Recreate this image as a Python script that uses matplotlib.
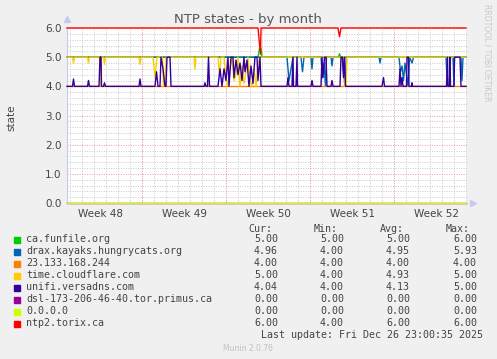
import matplotlib
matplotlib.use("Agg")
import matplotlib.pyplot as plt

# time axis in hours from the left edge of the graph (2 h per munin sample)
week_names = ['Week 48', 'Week 49', 'Week 50', 'Week 51', 'Week 52']
week_centres = [66, 234, 402, 570, 738]
mondays = [150, 318, 486, 654]
days = list(range(6, 800, 24))

names = ['ca.funfile.org', 'drax.kayaks.hungrycats.org', '23.133.168.244',
         'time.cloudflare.com', 'unifi.versadns.com',
         'dsl-173-206-46-40.tor.primus.ca', '0.0.0.0', 'ntp2.torix.ca']
colours = ['#00CC00', '#0066B3', '#FF8000', '#FFCC00', '#330099',
           '#990099', '#CCFF00', '#FF0000']
cur = [5.00, 4.96, 4.00, 5.00, 4.04, 0.00, 0.00, 6.00]
mins = [5.00, 4.00, 4.00, 4.00, 4.00, 0.00, 0.00, 4.00]
avg = [5.00, 4.95, 4.00, 4.93, 4.13, 0.00, 0.00, 6.00]
maxs = [6.00, 5.93, 4.00, 5.00, 5.00, 0.00, 0.00, 6.00]

funfile = [(0, 5), (382, 5), (385, 5.3), (388, 5.3), (390, 5), (543, 5), (545, 5.12),
           (547, 5), (798, 5)]
drax = [(0, 5), (440, 5), (444, 4.2), (448, 4.6), (452, 5), (468, 5), (471, 4.5), (474, 5),
        (488, 5), (490, 4.6), (492, 5), (508, 5), (511, 4.3), (514, 4.8), (517, 4.0),
        (519, 5), (528, 5), (530, 4.7), (532, 5), (550, 5), (553, 4.5), (556, 4.0), (559, 5),
        (624, 5), (626, 4.8), (628, 5), (664, 5), (667, 4.5), (670, 4.7), (673, 4.2),
        (676, 4.8), (679, 4.4), (682, 4.0), (685, 5), (690, 4.8), (693, 5), (758, 5),
        (761, 4.0), (765, 4.0), (767, 5), (772, 5), (774, 4.0), (775, 5), (788, 5),
        (790, 4.2), (792, 5), (798, 5)]
ip23 = [(0, 4), (798, 4)]
cloudflare = [(0, 5), (11, 5), (13, 4.8), (15, 5), (41, 5), (43, 4.8), (45, 5), (65, 5),
              (67, 4.0), (69, 5), (73, 5), (75, 4.75), (77, 5), (144, 5), (146, 4.75),
              (148, 5), (172, 5), (176, 4.3), (180, 5), (191, 5), (193, 4.0), (196, 4.0),
              (198, 5), (254, 5), (256, 4.6), (258, 5), (302, 5), (305, 4.4), (308, 5),
              (314, 5), (318, 4.3), (322, 4.0), (326, 4.6), (330, 5), (334, 4.2), (338, 4.4),
              (342, 5), (346, 4.0), (350, 4.7), (354, 4.1), (358, 4.5), (362, 5), (366, 4.2),
              (370, 4.0), (374, 4.6), (378, 4.0), (382, 4.8), (386, 5), (553, 5), (555, 4.0),
              (558, 4.0), (560, 5), (798, 5)]
unifi = [(0, 4), (11, 4), (13, 4.25), (15, 4), (41, 4), (43, 4.2), (45, 4), (64, 4), (66, 5),
         (68, 5), (69, 4), (73, 4), (75, 4.12), (77, 4), (144, 4), (146, 4.25), (148, 4),
         (176, 4), (179, 4.5), (182, 4), (186, 4), (188, 5), (192, 4.6), (196, 4), (198, 4),
         (200, 5), (206, 5), (208, 4), (274, 4), (276, 4.12), (278, 4), (281, 4), (283, 5),
         (285, 4), (302, 4), (306, 4.6), (310, 4), (314, 4.6), (318, 4.2), (322, 5),
         (324, 4), (328, 5), (332, 5), (334, 4.3), (338, 4.9), (342, 4.4), (346, 4.8),
         (350, 4.2), (354, 5), (356, 4.5), (360, 4.9), (364, 4), (368, 4.7), (372, 4.1),
         (376, 5), (380, 5), (382, 4.2), (386, 5), (388, 4), (440, 4), (442, 4.3), (444, 4),
         (450, 4), (452, 5), (453, 4), (458, 4), (460, 5), (461, 4), (488, 4), (490, 4.2),
         (492, 4), (508, 4), (510, 5), (512, 4.3), (515, 5), (518, 5), (520, 4), (528, 4),
         (530, 4.2), (532, 4), (546, 4), (548, 5), (551, 5), (553, 4.3), (555, 5), (557, 4),
         (630, 4), (633, 4.3), (635, 4), (664, 4), (666, 4.6), (668, 4), (670, 4.3), (672, 4),
         (679, 4), (680, 5), (683, 5), (684, 4), (689, 4), (690, 4.12), (691, 4), (759, 4),
         (761, 5), (762, 4), (765, 4), (766, 5), (767, 4), (774, 4), (775, 5), (786, 5),
         (788, 4), (798, 4)]
primus = [(0, 0), (798, 0)]
zeros = [(0, 0), (798, 0)]
torix = [(0, 6), (382, 6), (387, 5.1), (388, 6), (542, 6), (545, 5.7), (548, 6), (798, 6)]

series = [funfile, drax, ip23, cloudflare, unifi, primus, zeros, torix]

W, H = 497, 359
BG = '#F0F0F0'
TXT = '#444444'


def fx(x):
    return x / W


def fy(y):
    return 1 - y / H


fig = plt.figure(figsize=(W / 100, H / 100), dpi=100, facecolor=BG)
ax = fig.add_axes([fx(67), fy(203), 400 / W, 175 / H])
ax.set_facecolor('white')
ax.set_xlim(0, 800)
ax.set_ylim(0, 6)

# grid
dots = (0, (1, 1.5))
for y in [i * 0.2 for i in range(31)]:
    if abs(y - round(y)) < 1e-6:
        continue
    ax.axhline(y, color='#C8C8C8', lw=0.7, ls=dots, zorder=1)
for d in days:
    ax.axvline(d, color='#C8C8C8', lw=0.7, ls=dots, zorder=1)
for y in range(1, 7):
    ax.axhline(y, color='#E8A0A0', lw=0.7, ls=dots, zorder=1.5)
for m in mondays:
    ax.axvline(m, color='#E8A0A0', lw=0.7, ls=dots, zorder=1.5)

for pts, c in zip(series, colours):
    xs = [p[0] for p in pts]
    ys = [p[1] for p in pts]
    ax.plot(xs, ys, color=c, lw=1.0, clip_on=False, zorder=3)

for s in ['top', 'right']:
    ax.spines[s].set_visible(False)
for s in ['left', 'bottom']:
    ax.spines[s].set_color('#C8C8F0')
    ax.spines[s].set_linewidth(0.8)
ax.plot([0], [6.3], marker='^', color='#C8C8F0', ms=4, clip_on=False, zorder=4)
ax.plot([812], [0], marker='>', color='#C8C8F0', ms=4, clip_on=False, zorder=4)

ax.set_yticks(range(7))
ax.set_yticklabels(['%.1f' % v for v in range(7)], fontsize=7.5, color=TXT)
ax.set_xticks(week_centres)
ax.set_xticklabels(week_names, fontsize=7.5, color=TXT)
ax.tick_params(length=0, pad=4)

fig.text(fx(248), fy(19), 'NTP states - by month', ha='center', va='center',
         fontsize=9.5, color='#555555')
fig.text(fx(11), fy(118), 'state', ha='center', va='center', rotation=90,
         fontsize=7.5, color=TXT)
fig.text(fx(487), fy(53), 'RRDTOOL / TOBI OETIKER', ha='center', va='center',
         rotation=270, fontsize=5.5, color='#C8C8C8')

# legend
mono = 'DejaVu Sans Mono'
fs = 7.2
for label, xr in zip(['Cur:', 'Min:', 'Avg:', 'Max:'], [272, 338, 404, 470]):
    fig.text(fx(xr), fy(228.5), label, ha='right', va='center', family=mono,
             fontsize=fs, color=TXT)
for i in range(len(names)):
    yc = 239.5 + 12 * i
    fig.patches.append(plt.Rectangle((fx(14), fy(yc + 3)), 6 / W, 6 / H,
                                     transform=fig.transFigure, color=colours[i]))
    fig.text(fx(26), fy(yc), names[i], ha='left', va='center', family=mono,
             fontsize=fs, color=TXT)
    for v, xr in zip([cur[i], mins[i], avg[i], maxs[i]], [278, 344, 410, 477]):
        fig.text(fx(xr), fy(yc), '%.2f' % v, ha='right', va='center', family=mono,
                 fontsize=fs, color=TXT)
fig.text(fx(483), fy(335.5), 'Last update: Fri Dec 26 23:00:35 2025', ha='right',
         va='center', family=mono, fontsize=fs, color=TXT)
fig.text(fx(248), fy(348.5), 'Munin 2.0.76', ha='center', va='center',
         fontsize=5.5, color='#C0C0C0')

fig.savefig('out.png', dpi=100, facecolor=BG)
